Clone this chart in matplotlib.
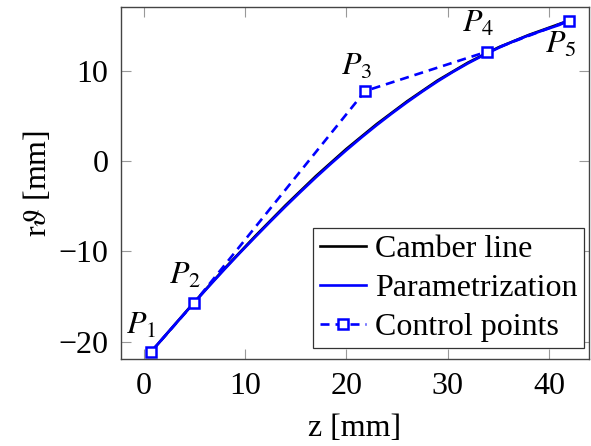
import matplotlib
matplotlib.use("Agg")
import matplotlib.pyplot as plt

# ----------------------------------------------------
# Data
# ----------------------------------------------------
ctrl_z = [0.7, 5.0, 21.85, 33.85, 41.93]
ctrl_r = [-21.17, -15.68, 7.75, 12.1, 15.54]
ctrl_names = ["$P_1$", "$P_2$", "$P_3$", "$P_4$", "$P_5$"]

param_z = [0.7, 2.0, 3.5, 5.0, 6.5, 8.0, 9.5, 11.0, 12.5, 14.0, 15.5, 17.0,
           18.5, 20.0, 21.5, 23.0, 24.5, 26.0, 27.5, 29.0, 30.5, 32.0, 33.5,
           35.0, 36.5, 38.0, 39.5, 41.0, 41.93]
param_r = [-21.17, -19.48, -17.56, -15.66, -13.79, -11.96, -10.16, -8.42,
           -6.7, -5.02, -3.39, -1.8, -0.27, 1.2, 2.62, 3.98, 5.28, 6.52, 7.7,
           8.82, 9.86, 10.82, 11.7, 12.52, 13.26, 13.92, 14.5, 15.06, 15.54]

camber_z = [0.7, 5.0, 8.0, 11.0, 14.0, 17.0, 20.0, 23.0, 26.0, 29.0, 32.0,
            35.0, 38.0, 41.93]
camber_r = [-21.17, -15.62, -11.88, -8.32, -4.9, -1.66, 1.34, 4.1, 6.62,
            8.92, 10.9, 12.58, 13.96, 15.54]

# label offsets in points: (dx, dy)
label_offsets = [(-6.5, 19), (-6.5, 19), (-6, 17), (-6, 20), (-6, -18)]

# ----------------------------------------------------
# Style
# ----------------------------------------------------
plt.rcParams["font.family"] = ["Liberation Serif", "DejaVu Serif"]
plt.rcParams["mathtext.fontset"] = "stix"
plt.rcParams["font.size"] = 23
plt.rcParams["lines.scale_dashes"] = False

blue = "#0000ff"

fig = plt.figure(figsize=(5.91, 4.46), dpi=100)
ax = fig.add_axes([121 / 591, 1 - 359 / 446, (589 - 121) / 591, (359 - 7) / 446])

ax.plot(camber_z, camber_r, color="black", lw=1.9, label="Camber line")
ax.plot(param_z, param_r, color=blue, lw=1.9, label="Parametrization")
ax.plot(ctrl_z, ctrl_r, color=blue, lw=1.9, dashes=(6.5, 4.3),
        marker="s", markersize=7, markerfacecolor="white",
        markeredgecolor=blue, markeredgewidth=1.8, label="Control points")

for z, r, name, (dx, dy) in zip(ctrl_z, ctrl_r, ctrl_names, label_offsets):
    ax.annotate(name, (z, r), xytext=(dx, dy), textcoords="offset points",
                ha="center", va="center", fontsize=23)

ax.set_xlim(-2.22, 43.93)
ax.set_ylim(-21.9, 17.05)
ax.set_xticks([0, 10, 20, 30, 40])
ax.set_yticks([-20, -10, 0, 10])

for s in ax.spines.values():
    s.set_color("#444444")
    s.set_linewidth(1.0)

ax.tick_params(direction="in", length=7, width=0.8, color="#999999",
               top=True, right=True, pad=9, labelsize=23)

ax.set_xlabel("z [mm]", labelpad=10)
ax.set_ylabel(r"r$\vartheta$ [mm]", labelpad=4)

leg = ax.legend(loc="lower right", bbox_to_anchor=(0.99, 0.03), fontsize=23,
                frameon=True, fancybox=False, framealpha=1, edgecolor="#333333",
                handlelength=1.45, handletextpad=0.3, labelspacing=0.3,
                borderpad=0.2, borderaxespad=0, numpoints=1)
leg.get_frame().set_linewidth(0.9)

fig.savefig("out.png", dpi=100)
